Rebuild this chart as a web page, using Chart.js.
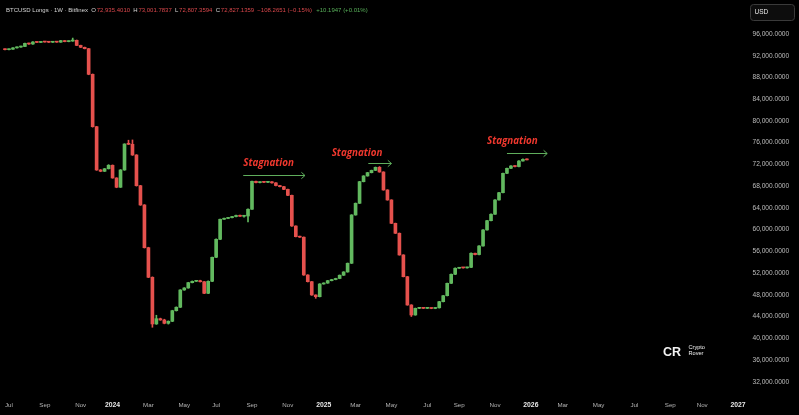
<!DOCTYPE html>
<html><head><meta charset="utf-8">
<script src="https://cdn.jsdelivr.net/npm/chart.js@4.4.0/dist/chart.umd.min.js"></script>
<style>html,body{margin:0;padding:0;background:#000;overflow:hidden}#wrap{width:799px;height:415px;position:relative}</style>
</head><body><div id="wrap"><canvas id="c" width="799" height="415"></canvas></div>
<script>
// ---------- DATA ----------
const startDate = '2023-06-26';   // first weekly bar (Monday)
const totalWeeks = 186;           // weekly slots shown on the time axis
const opens = [93180,93110,93200,93450,93600,93700,94280,94160,94530,94450,94550,94520,94480,94560,94500,94780,94600,94700,94840,93900,
93550,93300,88580,78940,70970,70730,71200,71840,69500,67790,70970,75800,75700,73730,68080,64530,56670,51220,42630,43600,
43360,42750,43120,45070,45700,48880,49250,50230,50480,50600,50400,48270,50480,54900,58210,61900,62050,62200,62400,62600,
62450,62500,63740,68890,68650,68750,68700,68800,68600,68100,67900,67400,66300,60660,58700,58600,51640,50410,47960,47650,
49990,50150,50600,50800,51000,51600,52200,53800,62690,64840,68820,69870,70480,70900,71460,70600,67290,65450,61150,59320,
55330,51330,46120,44280,45500,45600,45500,45550,45480,45600,46730,47830,50110,51770,52880,53000,52950,53050,55640,55400,
56980,59930,61640,62820,65450,66790,70360,71280,71710,71600,72620,72935.4010];
const highs = [93250,93260,93500,93650,93760,94350,94320,94600,94580,94600,94600,94560,94600,94600,94830,94800,94750,95250,94900,93950,
93600,93350,88650,79000,71050,71250,71950,71900,69550,71050,75800,76450,76500,73800,68150,64600,56750,51300,44230,43700,
43500,43200,45150,45780,48950,49320,50300,50550,50650,50680,50450,50550,54950,58280,61950,62100,62250,62450,62650,62650,
62550,63800,68950,68950,68800,68780,68850,68850,68650,68150,67950,67450,66350,60700,58800,58650,51700,50450,48000,50050,
50200,50650,50850,51050,51650,52250,53850,62750,64900,68880,69930,70540,70950,71520,71600,70650,67350,65500,61200,59380,
55380,51380,46180,45560,45660,45650,45600,45600,45650,46790,47890,50160,51830,52940,53060,53050,53100,55700,55690,57040,
59990,61700,62880,65500,66850,70420,71340,71770,71760,72680,73000,73001.7837];
const lows = [93050,93050,93150,93400,93550,93650,94100,94100,94400,94400,94480,94430,94440,94460,94460,94560,94560,94650,93850,93500,
93250,88500,78850,70900,70650,70680,71150,69450,67700,67750,70900,75650,73650,68000,64450,56600,51150,42020,42550,43300,
42650,42600,43050,45000,45650,48820,49200,50180,50430,50350,48200,48200,50420,54850,58150,61850,62000,62150,62350,62400,
62300,61400,63700,68600,68600,68650,68650,68550,68050,67850,67350,66250,60600,58650,58550,51580,50350,47900,47350,47600,
49940,50100,50550,50750,50950,51550,52150,53750,62640,64790,68770,69820,70430,70850,70550,67240,65400,61100,59270,55280,
51280,46070,44000,44230,45450,45450,45450,45430,45430,45550,46680,47780,50060,51720,52830,52900,52900,53000,55350,55350,
56930,59880,61590,62770,65400,66740,70310,71230,71550,71550,72570,72807.3594];
const closes = [93110,93200,93450,93600,93700,94280,94160,94530,94450,94550,94520,94480,94560,94500,94780,94600,94700,94840,93900,93550,
93300,88580,78940,70970,70730,71200,71840,69500,67790,70970,75750,75700,73730,68080,64530,56670,51220,42630,43600,43360,
42750,43120,45070,45700,48880,49250,50230,50480,50600,50400,48270,50480,54900,58210,61900,62050,62200,62400,62600,62450,
62500,63740,68890,68650,68750,68700,68800,68600,68100,67900,67400,66300,60660,58700,58600,51640,50410,47960,47650,49990,
50150,50600,50800,51000,51600,52200,53800,62690,64840,68820,69870,70480,70900,71460,70600,67290,65450,61150,59320,55330,
51330,46120,44280,45500,45600,45500,45550,45480,45600,46730,47830,50110,51770,52880,53000,52950,53050,55640,55400,56980,
59930,61640,62820,65450,66790,70360,71280,71710,71600,72620,72935,72827.1359];
const yTickValues = [32000,36000,40000,44000,48000,52000,56000,60000,64000,68000,72000,76000,80000,84000,88000,92000,96000];
const timeTickLabels = ['Jul','Sep','Nov','2024','Mar','May','Jul','Sep','Nov','2025','Mar','May','Jul','Sep','Nov','2026','Mar','May','Jul','Sep','Nov','2027'];
const headerParts = [
  {text:'BTCUSD Longs · 1W · Bitfinex', kind:'base', gap:3.2},
  {text:'O', kind:'base', gap:0.8}, {text:'72,935.4010', kind:'down', gap:3.2},
  {text:'H', kind:'base', gap:0.8}, {text:'73,001.7837', kind:'down', gap:3.2},
  {text:'L', kind:'base', gap:0.8}, {text:'72,807.3594', kind:'down', gap:3.2},
  {text:'C', kind:'base', gap:0.8}, {text:'72,827.1359', kind:'down', gap:3.2},
  {text:'−108.2651 (−0.15%)', kind:'down', gap:4.2},
  {text:'+10.1947 (+0.01%)', kind:'up', gap:0}
];
// annotation anchors in data units (week index, value)
const notes = [
  {label:'Stagnation', at:59.8, value:72130, from:59.8, to:75.3, arrowValue:69990},
  {label:'Stagnation', at:82.0, value:74100, from:91.2, to:97.0, arrowValue:72310},
  {label:'Stagnation', at:121.0, value:76310, from:126.0, to:136.1, arrowValue:74150}
];

// ---------- BUILD ----------
const UP = '#62b95f', DOWN = '#e5514d';
const weeks = [];
const tickLabelAt = {};
const yearIdx = new Set();
{
  const d0 = new Date(startDate + 'T00:00:00Z');
  let li = 0;
  for (let i = 0; i < totalWeeks; i++) {
    const d = new Date(d0.getTime() + i * 7 * 86400000);
    weeks.push(d.toISOString().slice(0, 10));
    const m = d.getUTCMonth();
    if (m % 2 === 0 && d.getUTCDate() <= 7 && li < timeTickLabels.length) {
      tickLabelAt[i] = timeTickLabels[li];
      if (/^\d{4}$/.test(timeTickLabels[li])) yearIdx.add(i);
      li++;
    }
  }
}
const bodies = opens.map((o, i) => [o, closes[i]]);
const wicks = lows.map((l, i) => [l, highs[i]]);
const candleColors = opens.map((o, i) => closes[i] >= o ? UP : DOWN);

const bg = {id:'bg', beforeDraw(c){const x=c.ctx; x.save(); x.fillStyle='#000'; x.fillRect(0,0,c.width,c.height); x.restore();}};

const overlay = {
  id: 'overlay',
  afterDraw(chart) {
    const ctx = chart.ctx, xs = chart.scales.x, ys = chart.scales.y;
    ctx.save();
    // header
    ctx.textBaseline = 'middle';
    ctx.textAlign = 'left';
    ctx.font = '6.0px "Liberation Sans", Arial, sans-serif';
    const colorOf = {base:'#d6d6d6', down:'#d9474b', up:'#58b05a'};
    let hx = 6;
    headerParts.forEach(p => {
      ctx.fillStyle = colorOf[p.kind];
      ctx.fillText(p.text, hx, 10.5);
      hx += ctx.measureText(p.text).width + p.gap;
    });
    // USD box
    ctx.beginPath();
    ctx.roundRect(750.5, 4.5, 44, 16, 3);
    ctx.fillStyle = '#0d0d0d'; ctx.fill();
    ctx.strokeStyle = '#3a3a3a'; ctx.lineWidth = 1; ctx.stroke();
    ctx.fillStyle = '#e8e8e8';
    ctx.font = '6.5px "Liberation Sans", Arial, sans-serif';
    ctx.fillText('USD', 754.5, 12.5);
    // watermark
    ctx.fillStyle = '#f2f2f2';
    ctx.font = 'bold 12.5px "Liberation Sans", Arial, sans-serif';
    ctx.fillText('CR', 663, 352.3);
    ctx.font = '5.6px "Liberation Sans", Arial, sans-serif';
    ctx.fillText('Crypto', 688.5, 347.6);
    ctx.fillText('Rover', 688.5, 353.8);
    // annotations
    notes.forEach(n => {
      ctx.font = 'italic bold 9.8px "Open Sans", sans-serif';
      ctx.fillStyle = '#f0382e';
      ctx.textBaseline = 'middle';
      ctx.fillText(n.label, xs.getPixelForValue(n.at), ys.getPixelForValue(n.value));
      const x1 = xs.getPixelForValue(n.from), x2 = xs.getPixelForValue(n.to);
      const yy = Math.round(ys.getPixelForValue(n.arrowValue)) + 0.5;
      ctx.strokeStyle = '#5fae5c'; ctx.lineWidth = 1;
      ctx.beginPath();
      ctx.moveTo(x1, yy); ctx.lineTo(x2, yy);
      ctx.moveTo(x2 - 3.6, yy - 3.2); ctx.lineTo(x2, yy); ctx.lineTo(x2 - 3.6, yy + 3.2);
      ctx.stroke();
    });
    ctx.restore();
  }
};

new Chart(document.getElementById('c'), {
  type: 'bar',
  data: {
    labels: weeks,
    datasets: [
      {label:'body', data: bodies, backgroundColor: candleColors, borderWidth: 0, barThickness: 3, grouped: false, minBarLength: 1, order: 1},
      {label:'wick', data: wicks, backgroundColor: candleColors, borderWidth: 0, barThickness: 1, grouped: false, order: 2}
    ]
  },
  options: {
    responsive: false, animation: false, devicePixelRatio: 1,
    layout: {padding: {left: 3, right: 0, top: 0, bottom: 0}},
    plugins: {legend: {display: false}, tooltip: {enabled: false}},
    scales: {
      x: {
        type: 'category', offset: true,
        grid: {display: false, drawTicks: false}, border: {display: false},
        ticks: {
          autoSkip: false, maxRotation: 0, minRotation: 0, padding: 6.5,
          color: c => yearIdx.has(c.index) ? '#e6e6e6' : '#b4b4b4',
          font: c => yearIdx.has(c.index)
            ? {family: '"Liberation Sans", Arial, sans-serif', size: 6.8, weight: 'bold'}
            : {family: '"Liberation Sans", Arial, sans-serif', size: 6.2},
          callback: (v, i) => tickLabelAt[i] || ''
        },
        afterFit: s => { s.height = 20; s.paddingLeft = 0; s.paddingRight = 0; }
      },
      y: {
        position: 'right', min: 29552, max: 102258,
        grid: {display: false, drawTicks: false}, border: {display: false},
        afterBuildTicks: s => { s.ticks = yTickValues.map(v => ({value: v})); },
        ticks: {
          padding: 8.5, color: '#bdbdbd',
          font: {family: '"Liberation Sans", Arial, sans-serif', size: 6.6},
          callback: v => Number(v).toLocaleString('en-US', {minimumFractionDigits: 4, maximumFractionDigits: 4})
        },
        afterFit: s => { s.width = 55; s.paddingTop = 0; s.paddingBottom = 0; }
      }
    }
  },
  plugins: [bg, overlay]
});
</script>
</body></html>
